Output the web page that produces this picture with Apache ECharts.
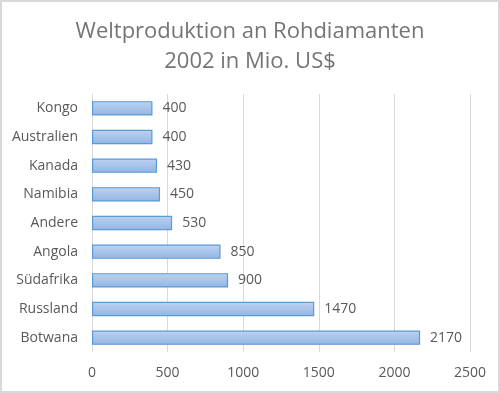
<!DOCTYPE html>
<html><head><meta charset="utf-8">
<script src="https://cdn.jsdelivr.net/npm/echarts@6/dist/echarts.min.js"></script>
<style>html,body{margin:0;padding:0;background:#fff}#c{width:500px;height:393px;box-sizing:border-box;border:2px solid #d9d9d9}</style>
</head><body><div id="c"></div>
<script>
const categories = ["Kongo","Australien","Kanada","Namibia","Andere","Angola","Südafrika","Russland","Botwana"];
const values = [400,400,430,450,530,850,900,1470,2170];
const titleText = "Weltproduktion an Rohdiamanten\n2002 in Mio. US$";
const chart = echarts.init(document.getElementById('c'));
const font = "'Open Sans', 'Liberation Sans', sans-serif";
chart.setOption({
  animation:false,
  title:{text:titleText,left:'center',top:10,textStyle:{color:'#757575',fontSize:22,fontWeight:'normal',fontFamily:font,lineHeight:30}},
  grid:{left:90,right:28,top:92,bottom:39},
  xAxis:{type:'value',min:0,max:2500,interval:500,
    axisLine:{show:false},axisTick:{show:false},
    axisLabel:{color:'#595959',fontSize:14,fontFamily:font,margin:14,formatter:v=>String(v)},
    splitLine:{lineStyle:{color:'#d9d9d9',width:1}}},
  yAxis:{type:'category',data:categories,inverse:true,
    axisLine:{show:true,lineStyle:{color:'#d9d9d9'}},axisTick:{show:false},
    axisLabel:{color:'#595959',fontSize:14,fontFamily:font,margin:14}},
  series:[{type:'bar',data:values,barCategoryGap:'50%',
    itemStyle:{borderColor:'#5b9bd5',borderWidth:1.2,
      color:new echarts.graphic.LinearGradient(0,0,0,1,[{offset:0,color:'#bed3f0'},{offset:1,color:'#92b5e4'}])},
    label:{show:true,position:'right',distance:10,color:'#595959',fontSize:14,fontFamily:font}}]
});
</script></body></html>
